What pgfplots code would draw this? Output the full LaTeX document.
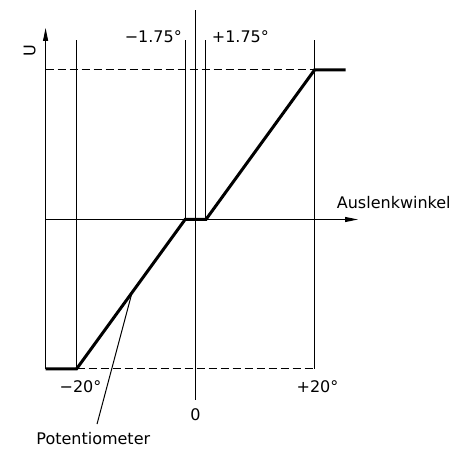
\documentclass[border=0pt]{standalone}
\usepackage{pgfplots}
\pgfplotsset{compat=1.18}
\usepackage{fontspec}
\setmainfont{DejaVu Sans}
\usetikzlibrary{arrows.meta}

\begin{document}
\begin{tikzpicture}[font=\fontsize{16}{19}\selectfont]

\begin{axis}[
scale only axis,
width=461pt, height=461pt,
axis lines=none,
clip=false,
xmin=-32.86, xmax=44.62,
ymin=-1.6154, ymax=1.4682,
cycle list={{black,solid}},
every axis plot/.style={black, line width=1pt, no marks},
]
% keep the full frame as the picture's bounding box
\path (rel axis cs:0,0) rectangle (rel axis cs:1,1);

% U axis and Auslenkwinkel axis
\addplot [-{Triangle[length=13pt,width=5pt]}] coordinates {(-25.2,-1) (-25.2,1.281)};
\addplot [-{Triangle[length=13pt,width=5pt]}] coordinates {(-25.2,0) (27.31,0)};

% vertical guide lines
\addplot [black, solid] coordinates {(-20,-1) (-20,1.2)};
\addplot [black, solid] coordinates {(-1.75,0) (-1.75,1.2)};
\addplot [black, solid] coordinates {(1.75,0) (1.75,1.2)};
\addplot [black, solid] coordinates {(20,-1) (20,1.2)};
\addplot [black, solid] coordinates {(0,-1.207) (0,1.401)};

% limits
\addplot [dash pattern=on 8pt off 4pt] coordinates {(-25.2,1) (20,1)};
\addplot [dash pattern=on 8pt off 4pt] coordinates {(-20,-1) (20,-1)};

% potentiometer characteristic
\addplot [line width=3pt, line join=miter] coordinates {
(-25.2,-1) (-20,-1) (-1.75,0) (1.75,0) (20,1) (25.24,1)
};

% leader line
\addplot [black, solid] coordinates {(-16.55,-1.368) (-10.67,-0.489)};

\node [rotate=90] at (axis cs:-27.87,1.128) {U};
\node [anchor=base east, inner sep=0pt] at (axis cs:-2.27,1.187) {−1.75°};
\node [anchor=base west, inner sep=0pt] at (axis cs:2.72,1.187) {+1.75°};
\node [anchor=base west, inner sep=0pt] at (axis cs:23.73,0.0702) {Auslenkwinkel};
\node [anchor=base, inner sep=0pt] at (axis cs:-19.33,-1.154) {−20°};
\node [anchor=base, inner sep=0pt] at (axis cs:20.5,-1.154) {+20°};
\node [anchor=base, inner sep=0pt] at (axis cs:0,-1.346) {0};
\node [anchor=base, inner sep=0pt] at (axis cs:-17.18,-1.508) {Potentiometer};
\end{axis}

\end{tikzpicture}
\end{document}
